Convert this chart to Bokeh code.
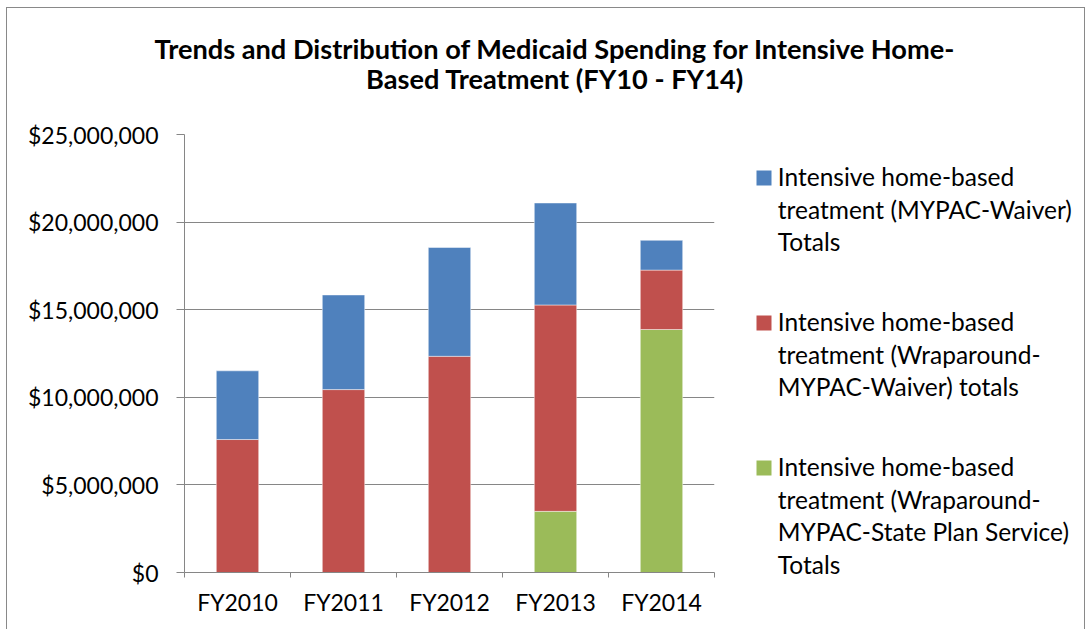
from bokeh.plotting import figure
from bokeh.layouts import column, row
from bokeh.models import (Range1d, FixedTicker, SingleIntervalTicker, NumeralTickFormatter,
                          CustomJSTickFormatter, ColumnDataSource)
from bokeh.core.properties import value
from bokeh.embed import file_html
from bokeh.resources import INLINE

# ---- data ----
years = ["FY2010", "FY2011", "FY2012", "FY2013", "FY2014"]
mypac_waiver = [3.92e6, 5.40e6, 6.21e6, 5.82e6, 1.70e6]          # blue (top)
wrap_mypac_waiver = [7.59e6, 10.44e6, 12.34e6, 11.78e6, 3.39e6]  # red (middle)
wrap_state_plan = [0.0, 0.0, 0.0, 3.49e6, 13.87e6]               # green (bottom)
series_labels = [
    "Intensive home-based\ntreatment (MYPAC-Waiver)\nTotals",
    "Intensive home-based\ntreatment (Wraparound-\nMYPAC-Waiver) totals",
    "Intensive home-based\ntreatment (Wraparound-\nMYPAC-State Plan Service)\nTotals",
]
title_lines = ["Trends and Distribution of Medicaid Spending for Intensive Home-",
               "Based Treatment (FY10 - FY14)"]

BLUE, RED, GREEN = "#4F81BD", "#C0504D", "#9BBB59"
series_colors = [BLUE, RED, GREEN]
GRAY = "#868686"
FONT = "Lato"
FS = "23px"

# page geometry (pixels)
X0, Y0 = 7, 8            # content origin (after margin + border)
W_TOTAL = 1077
TITLE_H = 100
MAIN_W, MAIN_H = 720, 521
LEG_W = W_TOTAL - MAIN_W
TEXT_SHIFT = -9.0        # baseline correction for text glyphs

def blank_fig(w, h, x0, y0):
    f = figure(width=w, height=h, output_backend="svg", toolbar_location=None, title=None,
               x_range=Range1d(x0, x0 + w), y_range=Range1d(y0 + h, y0),
               min_border=0, min_border_left=0, min_border_right=0, min_border_top=0,
               min_border_bottom=0, outline_line_color=None, border_fill_color="white",
               background_fill_color="white", x_axis_location=None, y_axis_location=None,
               frame_align=False)
    f.grid.visible = False
    return f

# ---- title ----
tf = blank_fig(W_TOTAL, TITLE_H, X0, Y0)
tf.text(x=[554.5, 554.5], y=[56.7 + TEXT_SHIFT, 86.7 + TEXT_SHIFT], text=title_lines,
        text_align="center", text_baseline="alphabetic", text_font=value(FONT),
        text_font_size="27.2px", text_font_style="bold", text_color="black")

# ---- main chart ----
src = ColumnDataSource(dict(
    x=list(range(len(years))),
    blue=mypac_waiver, red=wrap_mypac_waiver, green=wrap_state_plan,
))

p = figure(width=MAIN_W, height=MAIN_H, output_backend="svg", toolbar_location=None,
           x_range=Range1d(-0.5, len(years) - 0.5), y_range=Range1d(0, 25e6),
           min_border_left=177, min_border_right=13, min_border_top=26, min_border_bottom=57,
           outline_line_color=None, background_fill_color="white", border_fill_color="white",
           frame_align=False)

p.vbar_stack(["green", "red", "blue"], x="x", width=0.4, source=src,
             fill_color=[GREEN, RED, BLUE], line_color="white", line_alpha=0.45, line_width=1)

p.xgrid.visible = False
p.ygrid.grid_line_color = GRAY
p.ygrid.grid_line_width = 1
p.yaxis.ticker = SingleIntervalTicker(interval=5e6, num_minor_ticks=0)
p.yaxis.formatter = NumeralTickFormatter(format="$0,0")
p.yaxis.major_tick_out = 8
p.yaxis.major_tick_in = 0
p.yaxis.minor_tick_out = 0
p.yaxis.major_label_standoff = 18

n = len(years)
p.xaxis.ticker = FixedTicker(ticks=list(range(n)), minor_ticks=[i - 0.5 for i in range(n + 1)])
p.xaxis.formatter = CustomJSTickFormatter(args=dict(labels=years),
                                          code="return labels[Math.round(tick)]")
p.xaxis.major_tick_out = 0
p.xaxis.major_tick_in = 0
p.xaxis.minor_tick_out = 5
p.xaxis.minor_tick_in = 0
p.xaxis.major_label_standoff = 10

for ax in (p.xaxis[0], p.yaxis[0]):
    ax.axis_line_color = GRAY
    ax.major_tick_line_color = GRAY
    ax.minor_tick_line_color = GRAY
    ax.major_label_text_font = FONT
    ax.major_label_text_font_size = FS
    ax.major_label_text_color = "black"

# ---- legend panel ----
lf = blank_fig(LEG_W, MAIN_H, X0 + MAIN_W, Y0 + TITLE_H)
LINE_PITCH, ITEM_PITCH = 32.5, 145.0
FIRST_BASE = 185.0
SW_LEFT, SW_SIZE, TXT_X = 756.0, 15.0, 777.3
sw = dict(left=[], right=[], top=[], bottom=[], color=[])
tx = dict(x=[], y=[], text=[])
for i, (lab, col) in enumerate(zip(series_labels, series_colors)):
    base = FIRST_BASE + i * ITEM_PITCH
    sw["left"].append(SW_LEFT); sw["right"].append(SW_LEFT + SW_SIZE)
    sw["bottom"].append(base); sw["top"].append(base - SW_SIZE)
    sw["color"].append(col)
    for j, line in enumerate(lab.split("\n")):
        tx["x"].append(TXT_X)
        tx["y"].append(base + j * LINE_PITCH + TEXT_SHIFT)
        tx["text"].append(line)
lf.quad(left="left", right="right", top="top", bottom="bottom", fill_color="color",
        line_color=None, source=ColumnDataSource(sw))
lf.text(x="x", y="y", text="text", source=ColumnDataSource(tx), text_align="left",
        text_baseline="alphabetic", text_font=value(FONT), text_font_size="24.5px",
        text_color="black")

layout = column(tf, row(p, lf, spacing=0), spacing=0,
                styles={"border-left": "1px solid #898989", "border-top": "1px solid #898989",
                        "border-right": "1px solid #898989",
                        "margin-left": "6px", "margin-top": "7px"})

open("out.html", "w").write(file_html(layout, INLINE))
